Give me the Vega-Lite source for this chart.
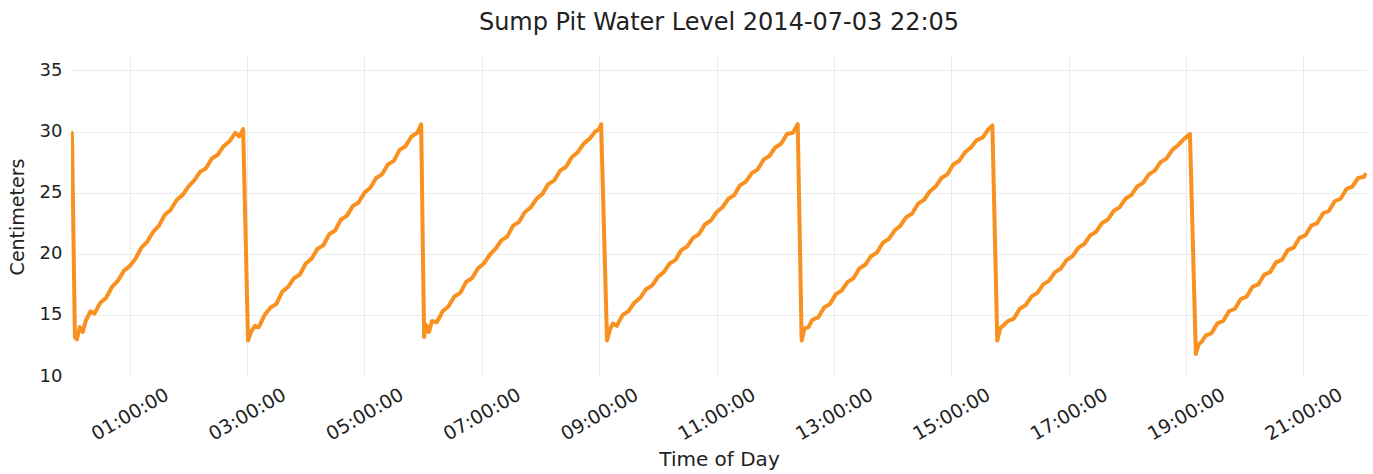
{
  "$schema": "https://vega.github.io/schema/vega-lite/v6.json",
  "width": 1296,
  "height": 319,
  "autosize": "none",
  "padding": {"left": 71, "top": 57, "right": 6, "bottom": 98},
  "background": "white",
  "config": {
    "font": "DejaVu Sans",
    "view": {"stroke": null}
  },
  "title": {
    "text": "Sump Pit Water Level 2014-07-03 22:05",
    "font": "DejaVu Sans",
    "fontSize": 24,
    "fontWeight": "normal",
    "color": "#222222",
    "anchor": "middle",
    "offset": 22
  },
  "data": {
    "values": [
      {"t": "2014-07-03T00:00", "cm": 30.0},
      {"t": "2014-07-03T00:01", "cm": 29.8},
      {"t": "2014-07-03T00:04", "cm": 13.2},
      {"t": "2014-07-03T00:06", "cm": 13.0},
      {"t": "2014-07-03T00:09", "cm": 14.0},
      {"t": "2014-07-03T00:12", "cm": 13.6},
      {"t": "2014-07-03T00:15", "cm": 14.5},
      {"t": "2014-07-03T00:20", "cm": 15.3},
      {"t": "2014-07-03T00:24", "cm": 15.1},
      {"t": "2014-07-03T00:30", "cm": 16.0},
      {"t": "2014-07-03T00:36", "cm": 16.4},
      {"t": "2014-07-03T00:42", "cm": 17.3},
      {"t": "2014-07-03T00:48", "cm": 17.8},
      {"t": "2014-07-03T00:54", "cm": 18.6},
      {"t": "2014-07-03T01:00", "cm": 19.0},
      {"t": "2014-07-03T01:06", "cm": 19.6},
      {"t": "2014-07-03T01:12", "cm": 20.5},
      {"t": "2014-07-03T01:18", "cm": 21.0},
      {"t": "2014-07-03T01:24", "cm": 21.8},
      {"t": "2014-07-03T01:30", "cm": 22.3},
      {"t": "2014-07-03T01:36", "cm": 23.2},
      {"t": "2014-07-03T01:42", "cm": 23.6},
      {"t": "2014-07-03T01:48", "cm": 24.4},
      {"t": "2014-07-03T01:54", "cm": 24.8},
      {"t": "2014-07-03T02:00", "cm": 25.5},
      {"t": "2014-07-03T02:06", "cm": 26.0},
      {"t": "2014-07-03T02:12", "cm": 26.7},
      {"t": "2014-07-03T02:18", "cm": 27.0},
      {"t": "2014-07-03T02:24", "cm": 27.8},
      {"t": "2014-07-03T02:30", "cm": 28.1},
      {"t": "2014-07-03T02:36", "cm": 28.8},
      {"t": "2014-07-03T02:42", "cm": 29.2},
      {"t": "2014-07-03T02:48", "cm": 29.9},
      {"t": "2014-07-03T02:52", "cm": 29.6},
      {"t": "2014-07-03T02:56", "cm": 30.2},
      {"t": "2014-07-03T03:01", "cm": 12.9},
      {"t": "2014-07-03T03:04", "cm": 13.6},
      {"t": "2014-07-03T03:08", "cm": 14.1},
      {"t": "2014-07-03T03:12", "cm": 14.0},
      {"t": "2014-07-03T03:18", "cm": 15.0},
      {"t": "2014-07-03T03:24", "cm": 15.6},
      {"t": "2014-07-03T03:30", "cm": 15.9},
      {"t": "2014-07-03T03:36", "cm": 16.9},
      {"t": "2014-07-03T03:42", "cm": 17.3},
      {"t": "2014-07-03T03:48", "cm": 18.0},
      {"t": "2014-07-03T03:54", "cm": 18.3},
      {"t": "2014-07-03T04:00", "cm": 19.2},
      {"t": "2014-07-03T04:06", "cm": 19.6},
      {"t": "2014-07-03T04:12", "cm": 20.4},
      {"t": "2014-07-03T04:18", "cm": 20.7},
      {"t": "2014-07-03T04:24", "cm": 21.6},
      {"t": "2014-07-03T04:30", "cm": 21.9},
      {"t": "2014-07-03T04:36", "cm": 22.8},
      {"t": "2014-07-03T04:42", "cm": 23.1},
      {"t": "2014-07-03T04:48", "cm": 23.9},
      {"t": "2014-07-03T04:54", "cm": 24.2},
      {"t": "2014-07-03T05:00", "cm": 25.0},
      {"t": "2014-07-03T05:06", "cm": 25.4},
      {"t": "2014-07-03T05:12", "cm": 26.2},
      {"t": "2014-07-03T05:18", "cm": 26.5},
      {"t": "2014-07-03T05:24", "cm": 27.3},
      {"t": "2014-07-03T05:30", "cm": 27.6},
      {"t": "2014-07-03T05:36", "cm": 28.5},
      {"t": "2014-07-03T05:42", "cm": 28.8},
      {"t": "2014-07-03T05:48", "cm": 29.6},
      {"t": "2014-07-03T05:54", "cm": 29.9},
      {"t": "2014-07-03T05:58", "cm": 30.6},
      {"t": "2014-07-03T06:01", "cm": 13.2},
      {"t": "2014-07-03T06:03", "cm": 14.2},
      {"t": "2014-07-03T06:06", "cm": 13.6},
      {"t": "2014-07-03T06:09", "cm": 14.5},
      {"t": "2014-07-03T06:14", "cm": 14.4},
      {"t": "2014-07-03T06:20", "cm": 15.3},
      {"t": "2014-07-03T06:26", "cm": 15.7},
      {"t": "2014-07-03T06:32", "cm": 16.5},
      {"t": "2014-07-03T06:38", "cm": 16.8},
      {"t": "2014-07-03T06:44", "cm": 17.7},
      {"t": "2014-07-03T06:50", "cm": 18.0},
      {"t": "2014-07-03T06:56", "cm": 18.8},
      {"t": "2014-07-03T07:02", "cm": 19.2},
      {"t": "2014-07-03T07:08", "cm": 19.9},
      {"t": "2014-07-03T07:14", "cm": 20.4},
      {"t": "2014-07-03T07:20", "cm": 21.1},
      {"t": "2014-07-03T07:26", "cm": 21.4},
      {"t": "2014-07-03T07:32", "cm": 22.3},
      {"t": "2014-07-03T07:38", "cm": 22.6},
      {"t": "2014-07-03T07:44", "cm": 23.4},
      {"t": "2014-07-03T07:50", "cm": 23.8},
      {"t": "2014-07-03T07:56", "cm": 24.5},
      {"t": "2014-07-03T08:02", "cm": 24.9},
      {"t": "2014-07-03T08:08", "cm": 25.7},
      {"t": "2014-07-03T08:14", "cm": 26.0},
      {"t": "2014-07-03T08:20", "cm": 26.8},
      {"t": "2014-07-03T08:26", "cm": 27.1},
      {"t": "2014-07-03T08:32", "cm": 27.9},
      {"t": "2014-07-03T08:38", "cm": 28.3},
      {"t": "2014-07-03T08:44", "cm": 29.0},
      {"t": "2014-07-03T08:50", "cm": 29.4},
      {"t": "2014-07-03T08:56", "cm": 30.0},
      {"t": "2014-07-03T09:00", "cm": 30.2},
      {"t": "2014-07-03T09:02", "cm": 30.6},
      {"t": "2014-07-03T09:08", "cm": 12.9},
      {"t": "2014-07-03T09:11", "cm": 13.8},
      {"t": "2014-07-03T09:14", "cm": 14.3},
      {"t": "2014-07-03T09:18", "cm": 14.1},
      {"t": "2014-07-03T09:24", "cm": 15.0},
      {"t": "2014-07-03T09:30", "cm": 15.3},
      {"t": "2014-07-03T09:36", "cm": 16.0},
      {"t": "2014-07-03T09:42", "cm": 16.4},
      {"t": "2014-07-03T09:48", "cm": 17.1},
      {"t": "2014-07-03T09:54", "cm": 17.4},
      {"t": "2014-07-03T10:00", "cm": 18.1},
      {"t": "2014-07-03T10:06", "cm": 18.5},
      {"t": "2014-07-03T10:12", "cm": 19.2},
      {"t": "2014-07-03T10:18", "cm": 19.5},
      {"t": "2014-07-03T10:24", "cm": 20.3},
      {"t": "2014-07-03T10:30", "cm": 20.6},
      {"t": "2014-07-03T10:36", "cm": 21.3},
      {"t": "2014-07-03T10:42", "cm": 21.6},
      {"t": "2014-07-03T10:48", "cm": 22.4},
      {"t": "2014-07-03T10:54", "cm": 22.7},
      {"t": "2014-07-03T11:00", "cm": 23.4},
      {"t": "2014-07-03T11:06", "cm": 23.8},
      {"t": "2014-07-03T11:12", "cm": 24.5},
      {"t": "2014-07-03T11:18", "cm": 24.8},
      {"t": "2014-07-03T11:24", "cm": 25.6},
      {"t": "2014-07-03T11:30", "cm": 25.9},
      {"t": "2014-07-03T11:36", "cm": 26.6},
      {"t": "2014-07-03T11:42", "cm": 26.9},
      {"t": "2014-07-03T11:48", "cm": 27.7},
      {"t": "2014-07-03T11:54", "cm": 28.0},
      {"t": "2014-07-03T12:00", "cm": 28.7},
      {"t": "2014-07-03T12:06", "cm": 29.0},
      {"t": "2014-07-03T12:12", "cm": 29.8},
      {"t": "2014-07-03T12:18", "cm": 29.9},
      {"t": "2014-07-03T12:23", "cm": 30.6},
      {"t": "2014-07-03T12:27", "cm": 12.9},
      {"t": "2014-07-03T12:30", "cm": 13.9},
      {"t": "2014-07-03T12:34", "cm": 14.0},
      {"t": "2014-07-03T12:38", "cm": 14.6},
      {"t": "2014-07-03T12:44", "cm": 14.8},
      {"t": "2014-07-03T12:50", "cm": 15.6},
      {"t": "2014-07-03T12:56", "cm": 15.9},
      {"t": "2014-07-03T13:02", "cm": 16.7},
      {"t": "2014-07-03T13:08", "cm": 17.0},
      {"t": "2014-07-03T13:14", "cm": 17.7},
      {"t": "2014-07-03T13:20", "cm": 18.0},
      {"t": "2014-07-03T13:26", "cm": 18.8},
      {"t": "2014-07-03T13:32", "cm": 19.1},
      {"t": "2014-07-03T13:38", "cm": 19.8},
      {"t": "2014-07-03T13:44", "cm": 20.1},
      {"t": "2014-07-03T13:50", "cm": 20.9},
      {"t": "2014-07-03T13:56", "cm": 21.2},
      {"t": "2014-07-03T14:02", "cm": 21.9},
      {"t": "2014-07-03T14:08", "cm": 22.3},
      {"t": "2014-07-03T14:14", "cm": 23.0},
      {"t": "2014-07-03T14:20", "cm": 23.3},
      {"t": "2014-07-03T14:26", "cm": 24.1},
      {"t": "2014-07-03T14:32", "cm": 24.4},
      {"t": "2014-07-03T14:38", "cm": 25.1},
      {"t": "2014-07-03T14:44", "cm": 25.5},
      {"t": "2014-07-03T14:50", "cm": 26.2},
      {"t": "2014-07-03T14:56", "cm": 26.5},
      {"t": "2014-07-03T15:02", "cm": 27.3},
      {"t": "2014-07-03T15:08", "cm": 27.6},
      {"t": "2014-07-03T15:14", "cm": 28.3},
      {"t": "2014-07-03T15:20", "cm": 28.7},
      {"t": "2014-07-03T15:26", "cm": 29.3},
      {"t": "2014-07-03T15:32", "cm": 29.5},
      {"t": "2014-07-03T15:38", "cm": 30.2},
      {"t": "2014-07-03T15:42", "cm": 30.5},
      {"t": "2014-07-03T15:47", "cm": 12.9},
      {"t": "2014-07-03T15:50", "cm": 13.9},
      {"t": "2014-07-03T15:54", "cm": 14.2},
      {"t": "2014-07-03T15:58", "cm": 14.5},
      {"t": "2014-07-03T16:04", "cm": 14.7},
      {"t": "2014-07-03T16:10", "cm": 15.5},
      {"t": "2014-07-03T16:16", "cm": 15.8},
      {"t": "2014-07-03T16:22", "cm": 16.5},
      {"t": "2014-07-03T16:28", "cm": 16.8},
      {"t": "2014-07-03T16:34", "cm": 17.5},
      {"t": "2014-07-03T16:40", "cm": 17.8},
      {"t": "2014-07-03T16:46", "cm": 18.5},
      {"t": "2014-07-03T16:52", "cm": 18.8},
      {"t": "2014-07-03T16:58", "cm": 19.5},
      {"t": "2014-07-03T17:04", "cm": 19.8},
      {"t": "2014-07-03T17:10", "cm": 20.5},
      {"t": "2014-07-03T17:16", "cm": 20.8},
      {"t": "2014-07-03T17:22", "cm": 21.5},
      {"t": "2014-07-03T17:28", "cm": 21.8},
      {"t": "2014-07-03T17:34", "cm": 22.5},
      {"t": "2014-07-03T17:40", "cm": 22.8},
      {"t": "2014-07-03T17:46", "cm": 23.5},
      {"t": "2014-07-03T17:52", "cm": 23.8},
      {"t": "2014-07-03T17:58", "cm": 24.5},
      {"t": "2014-07-03T18:04", "cm": 24.8},
      {"t": "2014-07-03T18:10", "cm": 25.5},
      {"t": "2014-07-03T18:16", "cm": 25.8},
      {"t": "2014-07-03T18:22", "cm": 26.5},
      {"t": "2014-07-03T18:28", "cm": 26.8},
      {"t": "2014-07-03T18:34", "cm": 27.5},
      {"t": "2014-07-03T18:40", "cm": 27.8},
      {"t": "2014-07-03T18:46", "cm": 28.5},
      {"t": "2014-07-03T18:52", "cm": 28.9},
      {"t": "2014-07-03T18:58", "cm": 29.4},
      {"t": "2014-07-03T19:04", "cm": 29.8},
      {"t": "2014-07-03T19:10", "cm": 11.8},
      {"t": "2014-07-03T19:13", "cm": 12.6},
      {"t": "2014-07-03T19:16", "cm": 12.8},
      {"t": "2014-07-03T19:20", "cm": 13.3},
      {"t": "2014-07-03T19:26", "cm": 13.5},
      {"t": "2014-07-03T19:32", "cm": 14.3},
      {"t": "2014-07-03T19:38", "cm": 14.5},
      {"t": "2014-07-03T19:44", "cm": 15.3},
      {"t": "2014-07-03T19:50", "cm": 15.5},
      {"t": "2014-07-03T19:56", "cm": 16.3},
      {"t": "2014-07-03T20:02", "cm": 16.5},
      {"t": "2014-07-03T20:08", "cm": 17.3},
      {"t": "2014-07-03T20:14", "cm": 17.5},
      {"t": "2014-07-03T20:20", "cm": 18.3},
      {"t": "2014-07-03T20:26", "cm": 18.5},
      {"t": "2014-07-03T20:32", "cm": 19.3},
      {"t": "2014-07-03T20:38", "cm": 19.5},
      {"t": "2014-07-03T20:44", "cm": 20.3},
      {"t": "2014-07-03T20:50", "cm": 20.5},
      {"t": "2014-07-03T20:56", "cm": 21.3},
      {"t": "2014-07-03T21:02", "cm": 21.5},
      {"t": "2014-07-03T21:08", "cm": 22.3},
      {"t": "2014-07-03T21:14", "cm": 22.5},
      {"t": "2014-07-03T21:20", "cm": 23.3},
      {"t": "2014-07-03T21:26", "cm": 23.5},
      {"t": "2014-07-03T21:32", "cm": 24.3},
      {"t": "2014-07-03T21:38", "cm": 24.5},
      {"t": "2014-07-03T21:44", "cm": 25.3},
      {"t": "2014-07-03T21:50", "cm": 25.5},
      {"t": "2014-07-03T21:56", "cm": 26.2},
      {"t": "2014-07-03T22:02", "cm": 26.3},
      {"t": "2014-07-03T22:04", "cm": 26.6}
    ]
  },
  "mark": {"type": "line", "color": "#f8911f", "strokeWidth": 4, "strokeJoin": "round", "clip": true},
  "encoding": {
    "x": {
      "field": "t",
      "type": "temporal",
      "scale": {
        "domain": [
          {"year": 2014, "month": 7, "date": 3, "hours": 0, "minutes": 0},
          {"year": 2014, "month": 7, "date": 3, "hours": 22, "minutes": 5}
        ],
        "nice": false
      },
      "axis": {
        "values": [
          {"year": 2014, "month": 7, "date": 3, "hours": 1},
          {"year": 2014, "month": 7, "date": 3, "hours": 3},
          {"year": 2014, "month": 7, "date": 3, "hours": 5},
          {"year": 2014, "month": 7, "date": 3, "hours": 7},
          {"year": 2014, "month": 7, "date": 3, "hours": 9},
          {"year": 2014, "month": 7, "date": 3, "hours": 11},
          {"year": 2014, "month": 7, "date": 3, "hours": 13},
          {"year": 2014, "month": 7, "date": 3, "hours": 15},
          {"year": 2014, "month": 7, "date": 3, "hours": 17},
          {"year": 2014, "month": 7, "date": 3, "hours": 19},
          {"year": 2014, "month": 7, "date": 3, "hours": 21}
        ],
        "format": "%H:%M:%S",
        "labelAngle": -30,
        "labelAlign": "center",
        "labelBaseline": "middle",
        "labelPadding": 38,
        "labelFontSize": 19,
        "labelColor": "#222222",
        "labelFlush": false,
        "labelOverlap": false,
        "domain": false,
        "ticks": false,
        "grid": true,
        "gridColor": "#ebebeb",
        "gridWidth": 1,
        "title": "Time of Day",
        "titleFontSize": 20,
        "titleFontWeight": "normal",
        "titleColor": "#222222",
        "titlePadding": 6
      }
    },
    "y": {
      "field": "cm",
      "type": "quantitative",
      "scale": {"domain": [10, 36.1], "nice": false, "zero": false},
      "axis": {
        "values": [10, 15, 20, 25, 30, 35],
        "labelFontSize": 18,
        "labelColor": "#222222",
        "labelPadding": 9,
        "domain": false,
        "ticks": false,
        "grid": true,
        "gridColor": {"condition": {"test": "datum.value == 10", "value": "transparent"}, "value": "#ebebeb"},
        "gridWidth": 1,
        "title": "Centimeters",
        "titleFontSize": 19,
        "titleFontWeight": "normal",
        "titleColor": "#222222",
        "titlePadding": 12
      }
    }
  }
}
